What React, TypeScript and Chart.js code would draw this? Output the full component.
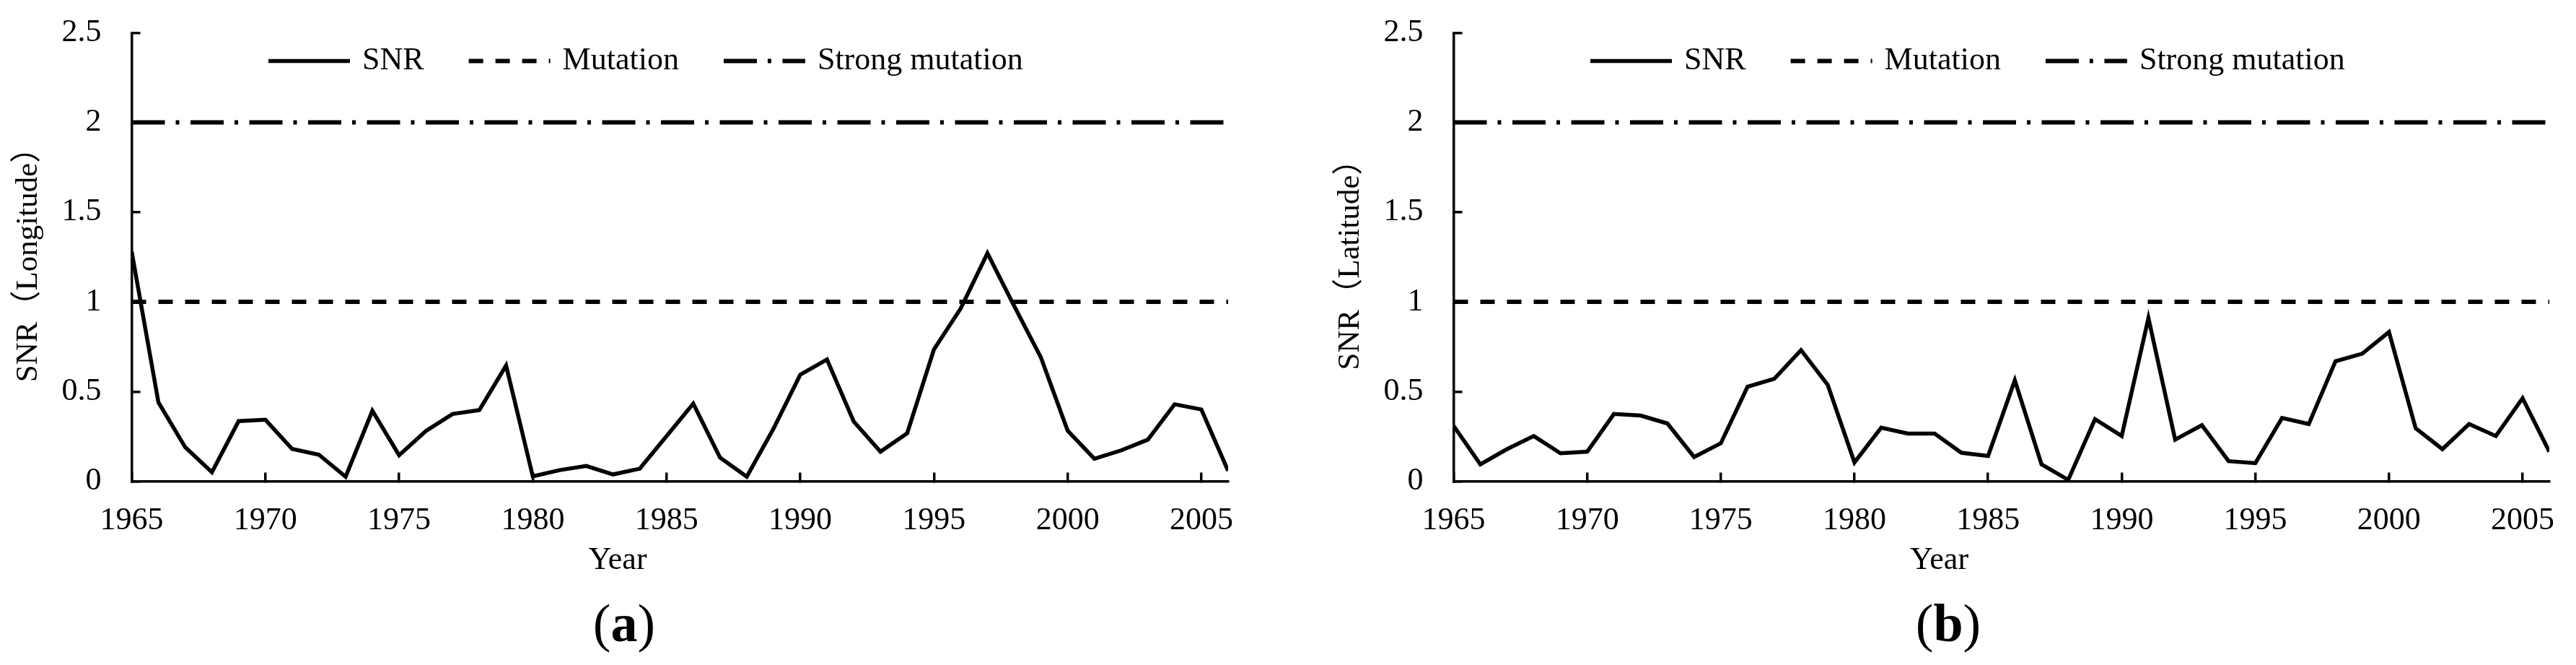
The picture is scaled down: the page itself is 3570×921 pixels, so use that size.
import React, { useEffect, useRef } from "react";
import { Chart, registerables } from "chart.js";

Chart.register(...registerables);

// ---------------- data ----------------
const years = [
  1965, 1966, 1967, 1968, 1969, 1970, 1971, 1972, 1973, 1974, 1975, 1976, 1977, 1978,
  1979, 1980, 1981, 1982, 1983, 1984, 1985, 1986, 1987, 1988, 1989, 1990, 1991, 1992,
  1993, 1994, 1995, 1996, 1997, 1998, 1999, 2000, 2001, 2002, 2003, 2004, 2005, 2006,
];

const snrLongitude = [
  1.28, 0.44, 0.19, 0.05, 0.335, 0.343, 0.18, 0.148, 0.025, 0.393, 0.145, 0.28, 0.375, 0.397,
  0.645, 0.027, 0.062, 0.085, 0.038, 0.07, 0.252, 0.433, 0.132, 0.025, 0.293, 0.594, 0.679, 0.333,
  0.165, 0.268, 0.735, 0.963, 1.271, 0.977, 0.69, 0.282, 0.125, 0.172, 0.232, 0.429, 0.4, 0.058,
];

const snrLatitude = [
  0.309, 0.094, 0.179, 0.252, 0.156, 0.165, 0.375, 0.366, 0.322, 0.135, 0.212, 0.527, 0.571, 0.731,
  0.537, 0.105, 0.299, 0.266, 0.266, 0.159, 0.141, 0.563, 0.094, 0.008, 0.346, 0.252, 0.91, 0.232,
  0.313, 0.112, 0.101, 0.353, 0.319, 0.669, 0.711, 0.832, 0.295, 0.179, 0.319, 0.252, 0.463, 0.165,
];

const xTickValues = [1965, 1970, 1975, 1980, 1985, 1990, 1995, 2000, 2005];
const xTickLabels = ["1965", "1970", "1975", "1980", "1985", "1990", "1995", "2000", "2005"];
const yTickValues = [0, 0.5, 1, 1.5, 2, 2.5];
const yTickLabels = ["0", "0.5", "1", "1.5", "2", "2.5"];
const xDomain = [1965, 2006];
const yDomain = [0, 2.5];
const mutationThreshold = 1;
const strongMutationThreshold = 2;
const seriesNames = ["SNR", "Mutation", "Strong mutation"];
const yTitles = ["SNR（Longitude）", "SNR（Latitude）"];
const xTitle = "Year";
const panelLetters = ["a", "b"];

// ---------------- style ----------------
const SERIF = "'Liberation Serif', 'Times New Roman', 'Noto Sans CJK SC', serif";
const CANVAS_H = 833;
const CANVAS_TOP = -43;

const insideLegend = {
  id: "insideLegend",
  afterDatasetsDraw(chart: any, _args: any, opts: any) {
    const { ctx, chartArea } = chart;
    let x = chartArea.left + opts.offsetX;
    const y = chartArea.top + opts.offsetY;
    ctx.save();
    ctx.font = `${opts.fontSize}px ${SERIF}`;
    ctx.fillStyle = "#000";
    ctx.textBaseline = "middle";
    ctx.textAlign = "left";
    chart.data.datasets.forEach((ds: any) => {
      ctx.beginPath();
      ctx.setLineDash(ds.borderDash || []);
      ctx.lineWidth = ds.borderWidth;
      ctx.strokeStyle = ds.borderColor;
      ctx.lineCap = "butt";
      ctx.moveTo(x, y);
      ctx.lineTo(x + opts.sampleWidth, y);
      ctx.stroke();
      ctx.setLineDash([]);
      x += opts.sampleWidth + opts.textGap;
      ctx.fillText(ds.label, x, y);
      x += ctx.measureText(ds.label).width + opts.itemGap;
    });
    ctx.restore();
  },
};

function Panel({ values, yTitle, left, width }: { values: number[]; yTitle: string; left: number; width: number }) {
  const ref = useRef<HTMLCanvasElement>(null);

  useEffect(() => {
    const points = years.map((yr, i) => ({ x: yr, y: values[i] }));
    const axisGrid = {
      drawOnChartArea: false,
      drawTicks: true,
      tickLength: -12,
      color: "#000",
      lineWidth: 3.5,
    };
    const axisBorder = { display: true, color: "#000", width: 3.5 };
    const tickFont = { family: SERIF, size: 44 };

    const chart = new Chart(ref.current as HTMLCanvasElement, {
      type: "line",
      data: {
        datasets: [
          {
            label: seriesNames[0],
            data: points,
            borderColor: "#000",
            borderWidth: 5.5,
            pointRadius: 0,
            tension: 0,
            borderJoinStyle: "miter",
          },
          {
            label: seriesNames[1],
            data: [
              { x: xDomain[0], y: mutationThreshold },
              { x: xDomain[1], y: mutationThreshold },
            ],
            borderColor: "#000",
            borderWidth: 6,
            borderDash: [20, 17],
            pointRadius: 0,
          },
          {
            label: seriesNames[2],
            data: [
              { x: xDomain[0], y: strongMutationThreshold },
              { x: xDomain[1], y: strongMutationThreshold },
            ],
            borderColor: "#000",
            borderWidth: 6,
            borderDash: [46, 15, 5, 15.5],
            pointRadius: 0,
          },
        ],
      } as any,
      options: {
        responsive: false,
        animation: false,
        devicePixelRatio: 1,
        events: [],
        layout: { padding: { left: 2, right: 50, top: 0, bottom: 0 } },
        plugins: {
          legend: { display: false },
          tooltip: { enabled: false },
          title: {
            display: true,
            text: xTitle,
            position: "bottom",
            color: "#000",
            font: { family: SERIF, size: 44, weight: "normal", lineHeight: 1 },
            padding: { top: -35.3, bottom: 0 },
          },
          insideLegend: {
            offsetX: 189.5,
            offsetY: 39,
            sampleWidth: 113,
            textGap: 17,
            itemGap: 62,
            fontSize: 44,
          },
        } as any,
        scales: {
          x: {
            type: "linear",
            min: xDomain[0],
            max: xDomain[1],
            afterBuildTicks: (s: any) => {
              s.ticks = xTickValues.map((v) => ({ value: v }));
            },
            ticks: {
              callback: (v: any) => xTickLabels[xTickValues.indexOf(Number(v))],
              color: "#000",
              font: tickFont,
              padding: 41,
              maxRotation: 0,
              autoSkip: false,
            },
            grid: axisGrid,
            border: axisBorder,
          },
          y: {
            type: "linear",
            min: yDomain[0],
            max: yDomain[1],
            afterBuildTicks: (s: any) => {
              s.ticks = yTickValues.map((v) => ({ value: v }));
            },
            ticks: {
              callback: (v: any) => yTickLabels[yTickValues.indexOf(Number(v))],
              color: "#000",
              font: tickFont,
              padding: 54,
              autoSkip: false,
            },
            grid: axisGrid,
            border: axisBorder,
            title: {
              display: true,
              text: yTitle,
              color: "#000",
              font: { family: SERIF, size: 43, weight: "normal", lineHeight: 1 },
              padding: { top: 8.5, bottom: -30 },
            },
          },
        } as any,
      },
      plugins: [insideLegend as any],
    });
    return () => chart.destroy();
  }, []);

  return (
    <canvas
      ref={ref}
      width={width}
      height={CANVAS_H}
      style={{ position: "absolute", left, top: CANVAS_TOP, width, height: CANVAS_H }}
    />
  );
}

function Caption({ letter, left, width }: { letter: string; left: number; width: number }) {
  return (
    <div
      style={{
        position: "absolute",
        left,
        top: 818,
        width,
        textAlign: "center",
        fontFamily: SERIF,
        fontSize: 74,
        lineHeight: "74px",
        color: "#000",
      }}
    >
      (<b>{letter}</b>)
    </div>
  );
}

export default function App() {
  return (
    <div style={{ position: "relative", width: 3554, height: 905, overflow: "hidden", background: "#fff" }}>
      <Panel values={snrLongitude} yTitle={yTitles[0]} left={0} width={1744} />
      <Panel values={snrLatitude} yTitle={yTitles[1]} left={1832} width={1743} />
      <Caption letter={panelLetters[0]} left={0} width={1714} />
      <Caption letter={panelLetters[1]} left={1842} width={1700} />
    </div>
  );
}
